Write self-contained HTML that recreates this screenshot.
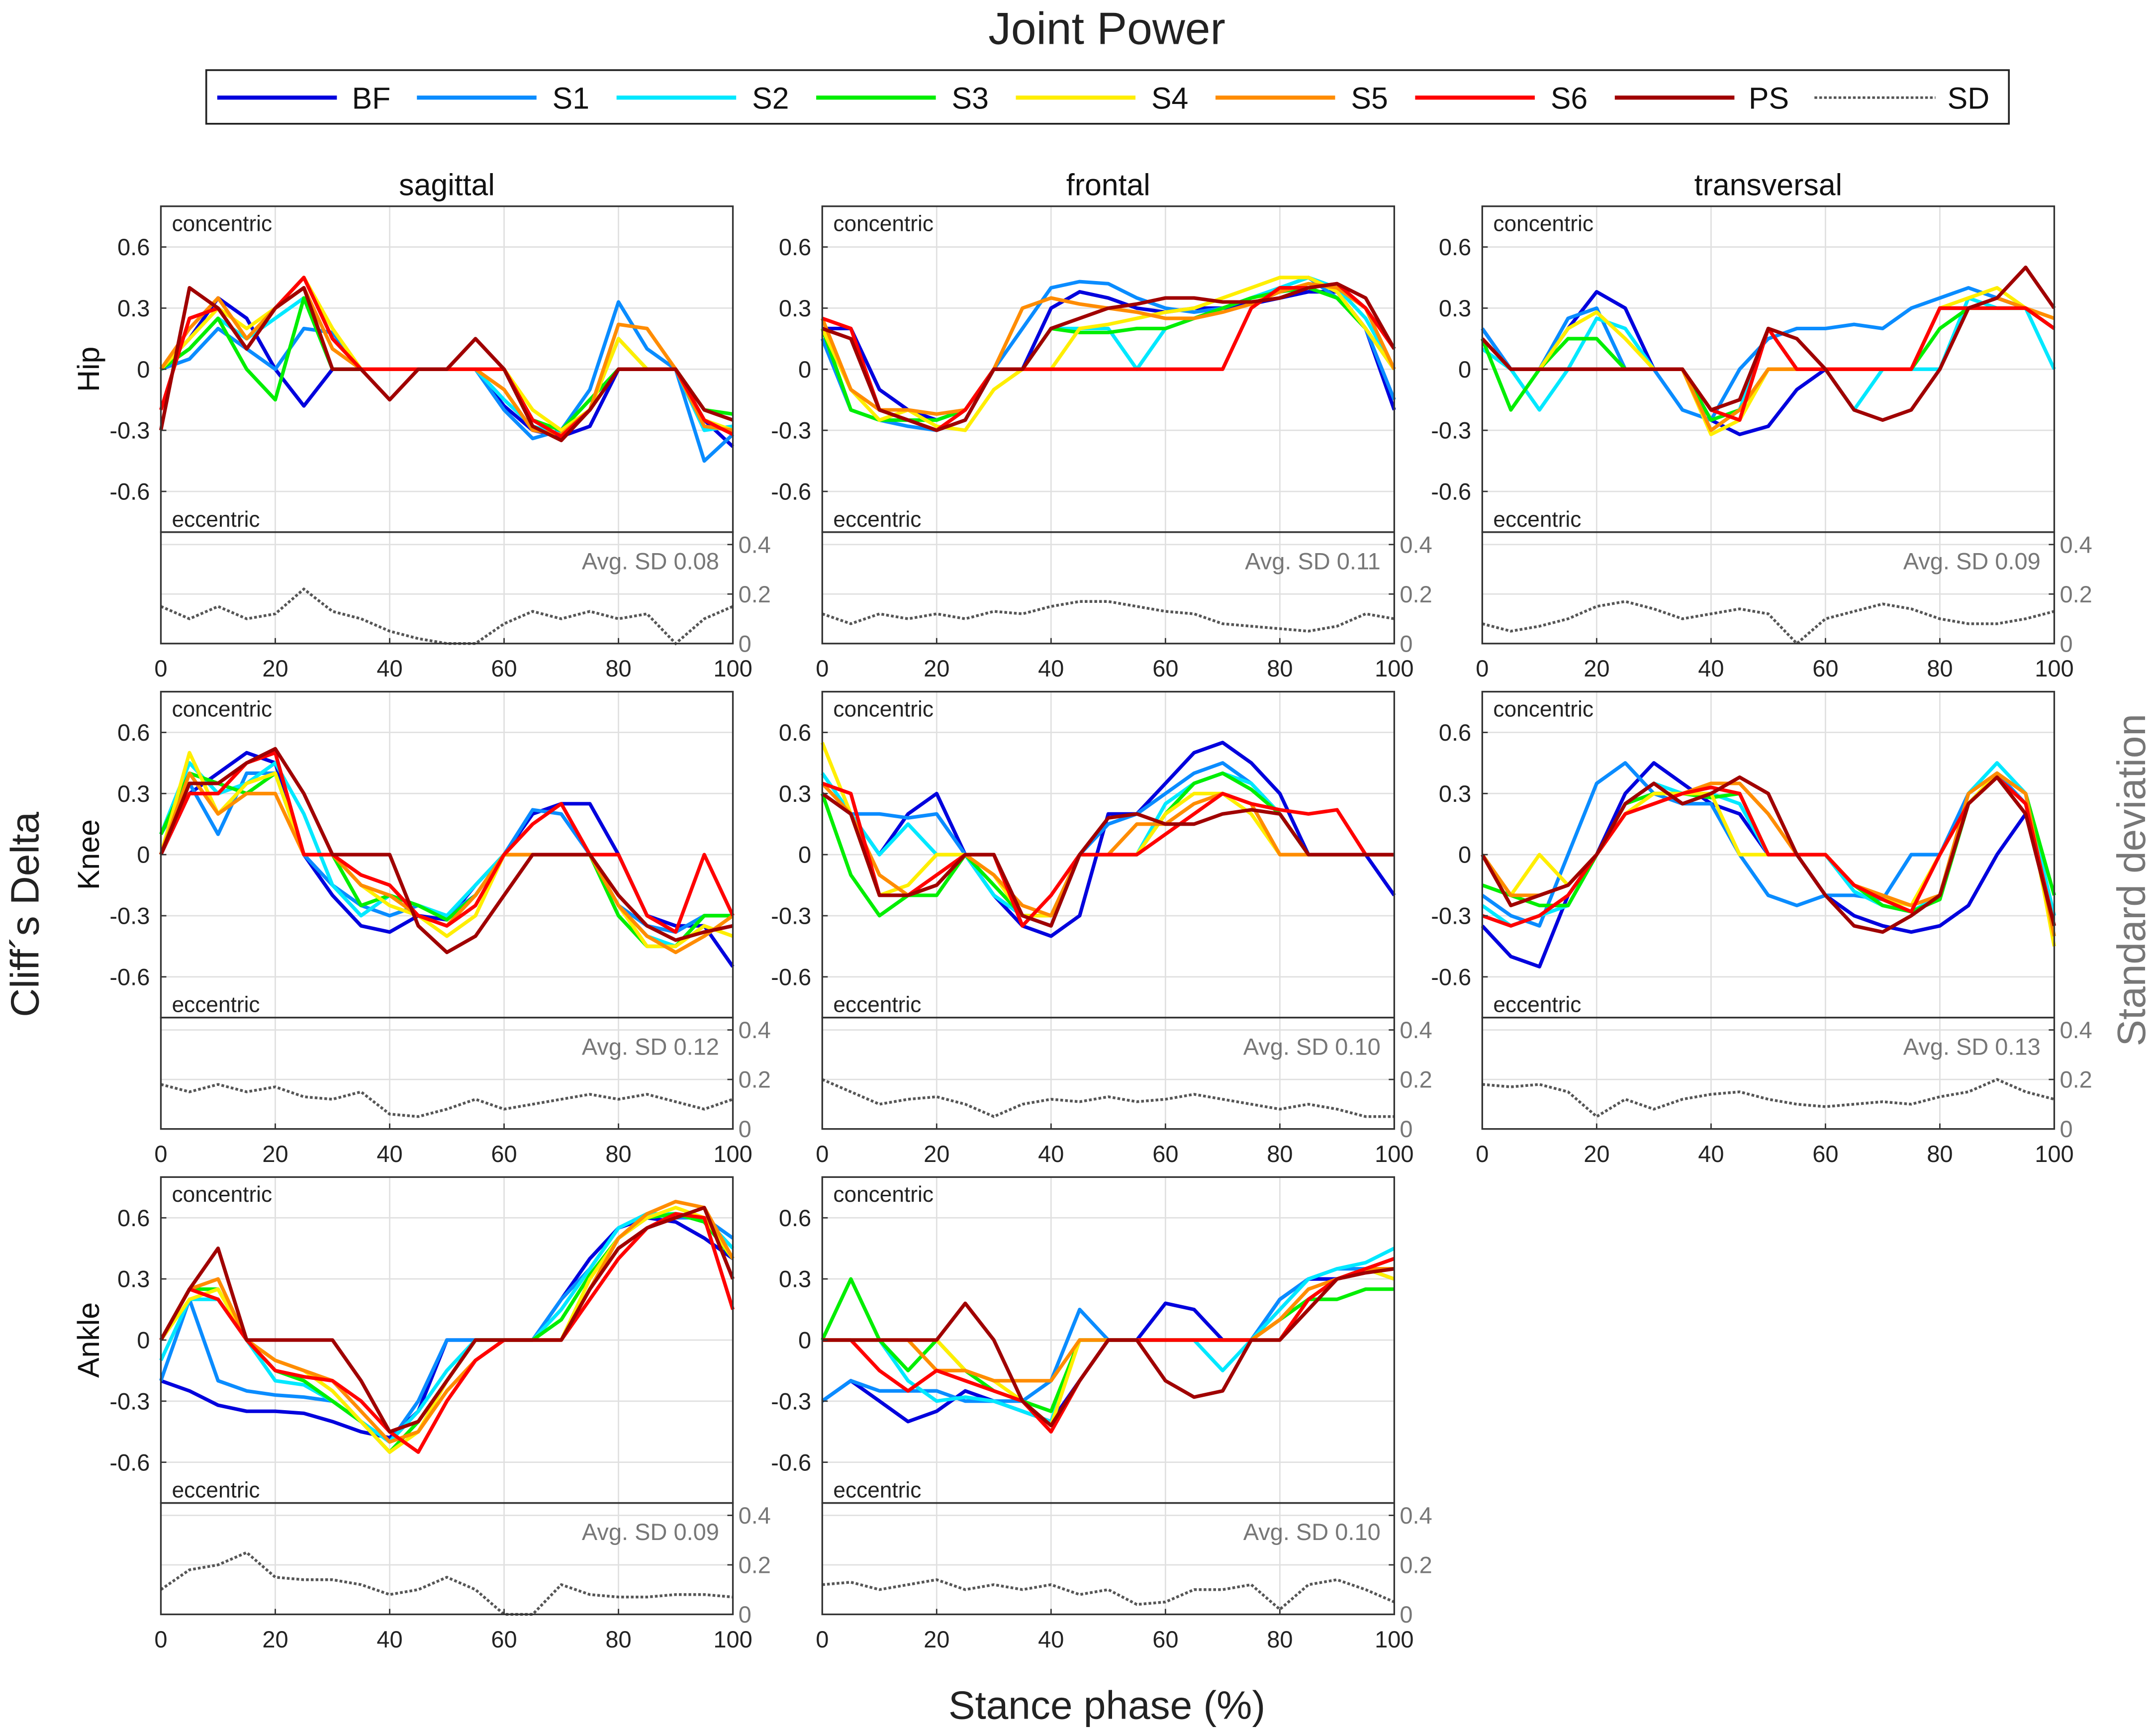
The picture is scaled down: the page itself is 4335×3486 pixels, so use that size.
<!DOCTYPE html>
<html><head><meta charset="utf-8"><title>Joint Power</title>
<style>html,body{margin:0;padding:0;background:#fff}svg{display:block}text{font-family:"Liberation Sans",sans-serif}</style>
</head><body>
<svg id="chart" width="4335" height="3486" viewBox="0 0 1568 1261" preserveAspectRatio="none" xmlns="http://www.w3.org/2000/svg">
<rect x="0" y="0" width="1568" height="1261" fill="#fff"/>
<text x="805" y="32" font-size="33" text-anchor="middle" fill="#222">Joint Power</text>
<g id="legend"></g>
<g id="panels"></g>
<text transform="translate(28,665) rotate(-90)" font-size="29" text-anchor="middle" fill="#222">Cliff´s Delta</text>
<text transform="translate(1560,640) rotate(-90)" font-size="29" text-anchor="middle" fill="#777">Standard deviation</text>
<text x="805" y="1250" font-size="29" text-anchor="middle" fill="#222">Stance phase (%)</text>
</svg>
<script>
const seriesNames = ["BF","S1","S2","S3","S4","S5","S6","PS"];
const seriesColors = ["#0000dd","#0a8cff","#00e8ff","#00ee00","#ffee00","#ff8c00","#ff0000","#a00000"];
const xGrid = [0,5,10,15,20,25,30,35,40,45,50,55,60,65,70,75,80,85,90,95,100];
const mainTicks = [0.6,0.3,0,-0.3,-0.6];
const mainTickLabels = ["0.6","0.3","0","-0.3","-0.6"];
const sdTicks = [0,0.2,0.4];
const xTicks = [0,20,40,60,80,100];
const columnTitles = ["sagittal","frontal","transversal"];
const rowTitles = ["Hip","Knee","Ankle"];
const avgSD = ["0.08","0.11","0.09","0.12","0.10","0.13","0.09","0.10"];

const hipSag = [
[0,0.15,0.35,0.25,0,-0.18,0,0,0,0,0,0,-0.18,-0.3,-0.33,-0.28,0,0,0,-0.25,-0.38],
[0,0.05,0.2,0.1,0,0.2,0.18,0,0,0,0,0,-0.2,-0.34,-0.3,-0.1,0.33,0.1,0,-0.45,-0.32],
[0,0.1,0.25,0.15,0.25,0.35,0,0,0,0,0,0,-0.15,-0.28,-0.32,-0.2,0.15,0,0,-0.3,-0.28],
[0,0.1,0.25,0,-0.15,0.35,0,0,0,0,0,0,0,-0.25,-0.3,-0.15,0,0,0,-0.2,-0.22],
[0,0.15,0.3,0.2,0.3,0.45,0.2,0,0,0,0,0,0,-0.2,-0.3,-0.2,0.15,0,0,-0.25,-0.3],
[0,0.2,0.35,0.15,0.3,0.4,0.1,0,0,0,0,0,-0.1,-0.3,-0.32,-0.2,0.22,0.2,0,-0.28,-0.3],
[-0.2,0.25,0.3,0.1,0.3,0.45,0.15,0,0,0,0,0,0,-0.25,-0.33,-0.2,0,0,0,-0.25,-0.32],
[-0.3,0.4,0.3,0.1,0.3,0.4,0,0,-0.15,0,0,0.15,0,-0.28,-0.35,-0.2,0,0,0,-0.2,-0.25]];
const hipSagSD = [0.15,0.1,0.15,0.1,0.12,0.22,0.13,0.1,0.05,0.02,0,0,0.08,0.13,0.1,0.13,0.1,0.12,0,0.1,0.15];

const hipFro = [
[0.2,0.2,-0.1,-0.2,-0.25,-0.2,0,0,0.3,0.38,0.35,0.3,0.28,0.3,0.3,0.32,0.35,0.38,0.38,0.2,-0.2],
[0.15,-0.2,-0.25,-0.28,-0.3,-0.25,0,0.2,0.4,0.43,0.42,0.35,0.3,0.28,0.3,0.35,0.4,0.45,0.35,0.2,-0.15],
[0.2,-0.2,-0.25,-0.25,-0.25,-0.2,0,0,0.2,0.2,0.2,0,0.2,0.25,0.3,0.35,0.4,0.45,0.4,0.25,0],
[0.2,-0.2,-0.25,-0.25,-0.25,-0.2,0,0,0.2,0.18,0.18,0.2,0.2,0.25,0.3,0.35,0.38,0.4,0.35,0.2,0],
[0.2,-0.1,-0.25,-0.2,-0.28,-0.3,-0.1,0,0,0.2,0.22,0.25,0.28,0.3,0.35,0.4,0.45,0.45,0.38,0.2,0],
[0.25,-0.1,-0.2,-0.2,-0.22,-0.2,0,0.3,0.35,0.32,0.3,0.28,0.25,0.25,0.28,0.32,0.38,0.42,0.4,0.3,0],
[0.25,0.2,-0.2,-0.25,-0.3,-0.2,0,0,0,0,0,0,0,0,0,0.3,0.4,0.4,0.42,0.3,0.1],
[0.2,0.15,-0.2,-0.25,-0.3,-0.25,0,0,0.2,0.25,0.3,0.32,0.35,0.35,0.33,0.33,0.35,0.4,0.42,0.35,0.1]];
const hipFroSD = [0.12,0.08,0.12,0.1,0.12,0.1,0.13,0.12,0.15,0.17,0.17,0.15,0.13,0.12,0.08,0.07,0.06,0.05,0.07,0.12,0.1];

const hipTra = [
[0.2,0,0,0.2,0.38,0.3,0,0,-0.25,-0.32,-0.28,-0.1,0,0,0,0,0.3,0.3,0.35,0.3,0.2],
[0.2,0,0,0.25,0.3,0,0,-0.2,-0.25,0,0.15,0.2,0.2,0.22,0.2,0.3,0.35,0.4,0.35,0.3,0.2],
[0.1,0,-0.2,0,0.25,0.2,0,0,-0.3,-0.2,0.2,0,0,-0.2,0,0,0,0.35,0.3,0.3,0],
[0.15,-0.2,0,0.15,0.15,0,0,0,-0.25,-0.2,0,0,0,0,0,0,0.2,0.3,0.3,0.3,0.2],
[0.15,0,0,0.2,0.28,0.15,0,0,-0.32,-0.25,0,0,0,0,0,0,0.3,0.35,0.4,0.3,0.25],
[0.15,0,0,0,0,0,0,0,-0.3,-0.2,0,0,0,0,0,0,0.3,0.3,0.35,0.3,0.25],
[0.15,0,0,0,0,0,0,0,-0.2,-0.25,0.2,0,0,0,0,0,0.3,0.3,0.3,0.3,0.2],
[0.15,0,0,0,0,0,0,0,-0.2,-0.15,0.2,0.15,0,-0.2,-0.25,-0.2,0,0.3,0.35,0.5,0.3]];
const hipTraSD = [0.08,0.05,0.07,0.1,0.15,0.17,0.14,0.1,0.12,0.14,0.12,0,0.1,0.13,0.16,0.14,0.1,0.08,0.08,0.1,0.13];

const kneeSag = [
[0,0.3,0.4,0.5,0.45,0,-0.2,-0.35,-0.38,-0.3,-0.32,-0.15,0,0.2,0.25,0.25,0,-0.3,-0.35,-0.35,-0.55],
[0.1,0.35,0.1,0.4,0.4,0,-0.15,-0.25,-0.3,-0.25,-0.3,-0.2,0,0.22,0.2,0,-0.25,-0.35,-0.38,-0.3,-0.3],
[0.1,0.45,0.3,0.35,0.45,0.2,-0.15,-0.3,-0.2,-0.25,-0.3,-0.15,0,0,0,0,-0.25,-0.4,-0.45,-0.3,-0.3],
[0.1,0.4,0.35,0.3,0.4,0,0,-0.25,-0.2,-0.25,-0.32,-0.2,0,0,0,0,-0.3,-0.45,-0.45,-0.3,-0.3],
[0,0.5,0.2,0.35,0.4,0,0,-0.15,-0.25,-0.3,-0.4,-0.3,0,0,0,0,-0.25,-0.45,-0.45,-0.35,-0.4],
[0,0.4,0.2,0.3,0.3,0,0,-0.15,-0.2,-0.3,-0.35,-0.2,0,0,0,0,-0.25,-0.4,-0.48,-0.4,-0.3],
[0,0.3,0.3,0.45,0.5,0,0,-0.1,-0.15,-0.3,-0.35,-0.25,0,0.15,0.25,0,0,-0.3,-0.38,0,-0.3],
[0,0.35,0.35,0.45,0.52,0.3,0,0,0,-0.35,-0.48,-0.4,-0.2,0,0,0,-0.2,-0.35,-0.42,-0.38,-0.35]];
const kneeSagSD = [0.18,0.15,0.18,0.15,0.17,0.13,0.12,0.15,0.06,0.05,0.08,0.12,0.08,0.1,0.12,0.14,0.12,0.14,0.11,0.08,0.12];

const kneeFro = [
[0.3,0.2,0,0.2,0.3,0,-0.2,-0.35,-0.4,-0.3,0.2,0.2,0.35,0.5,0.55,0.45,0.3,0,0,0,-0.2],
[0.3,0.2,0.2,0.18,0.2,0,-0.2,-0.3,-0.35,0,0.15,0.2,0.3,0.4,0.45,0.35,0.2,0,0,0,0],
[0.4,0.2,0,0.15,0,0,-0.2,-0.3,-0.3,0,0,0,0.25,0.35,0.4,0.35,0.2,0,0,0,0],
[0.3,-0.1,-0.3,-0.2,-0.2,0,-0.15,-0.3,-0.3,0,0,0,0.2,0.35,0.4,0.32,0.2,0,0,0,0],
[0.55,0.2,-0.2,-0.15,0,0,-0.1,-0.3,-0.3,0,0,0,0.2,0.3,0.3,0.2,0,0,0,0,0],
[0.35,0.2,-0.1,-0.2,-0.15,0,-0.1,-0.25,-0.3,0,0,0.15,0.15,0.25,0.3,0.25,0,0,0,0,0],
[0.35,0.3,-0.2,-0.2,-0.1,0,0,-0.35,-0.2,0,0,0,0.1,0.2,0.3,0.25,0.22,0.2,0.22,0,0],
[0.3,0.2,-0.2,-0.2,-0.15,0,0,-0.3,-0.35,0,0.18,0.2,0.15,0.15,0.2,0.22,0.2,0,0,0,0]];
const kneeFroSD = [0.2,0.15,0.1,0.12,0.13,0.1,0.05,0.1,0.12,0.11,0.13,0.11,0.12,0.14,0.12,0.1,0.08,0.1,0.08,0.05,0.05];

const kneeTra = [
[-0.35,-0.5,-0.55,-0.2,0,0.3,0.45,0.35,0.25,0.2,0,0,-0.2,-0.3,-0.35,-0.38,-0.35,-0.25,0,0.2,-0.3],
[-0.2,-0.3,-0.35,0,0.35,0.45,0.3,0.25,0.25,0,-0.2,-0.25,-0.2,-0.2,-0.22,0,0,0.3,0.4,0.25,-0.3],
[-0.25,-0.35,-0.3,-0.25,0,0.25,0.35,0.3,0.3,0.25,0,0,0,-0.18,-0.25,-0.28,-0.2,0.3,0.45,0.3,-0.3],
[-0.15,-0.2,-0.25,-0.25,0,0.25,0.3,0.3,0.28,0.3,0,0,0,-0.15,-0.25,-0.28,-0.22,0.25,0.4,0.3,-0.2],
[0,-0.2,0,-0.15,0,0.2,0.3,0.3,0.3,0,0,0,0,-0.15,-0.22,-0.25,0,0.25,0.4,0.3,-0.45],
[0,-0.2,-0.2,-0.15,0,0.2,0.25,0.3,0.35,0.35,0.2,0,0,-0.15,-0.2,-0.25,-0.2,0.3,0.4,0.3,-0.4],
[-0.3,-0.35,-0.3,-0.2,0,0.2,0.25,0.3,0.33,0.3,0,0,0,-0.15,-0.22,-0.28,0,0.25,0.38,0.25,-0.35],
[0,-0.25,-0.2,-0.15,0,0.25,0.35,0.25,0.3,0.38,0.3,0,-0.2,-0.35,-0.38,-0.3,-0.2,0.25,0.38,0.2,-0.35]];
const kneeTraSD = [0.18,0.17,0.18,0.15,0.05,0.12,0.08,0.12,0.14,0.15,0.12,0.1,0.09,0.1,0.11,0.1,0.13,0.15,0.2,0.15,0.12];

const ankleSag = [
[-0.2,-0.25,-0.32,-0.35,-0.35,-0.36,-0.4,-0.45,-0.48,-0.35,0,0,0,0,0.2,0.4,0.55,0.6,0.58,0.5,0.4],
[-0.2,0.2,-0.2,-0.25,-0.27,-0.28,-0.3,-0.4,-0.5,-0.3,0,0,0,0,0.2,0.35,0.55,0.62,0.6,0.6,0.5],
[-0.1,0.2,0.2,0,-0.2,-0.22,-0.3,-0.4,-0.5,-0.35,-0.15,0,0,0,0.15,0.35,0.55,0.62,0.62,0.6,0.45],
[0,0.25,0.25,0,-0.15,-0.2,-0.3,-0.4,-0.55,-0.4,-0.2,0,0,0,0.1,0.32,0.5,0.6,0.62,0.58,0.4],
[0,0.2,0.25,0,-0.1,-0.15,-0.25,-0.4,-0.55,-0.45,-0.2,0,0,0,0,0.3,0.5,0.6,0.65,0.6,0.4],
[0,0.25,0.3,0,-0.1,-0.15,-0.2,-0.35,-0.5,-0.45,-0.25,-0.1,0,0,0,0.25,0.5,0.62,0.68,0.65,0.4],
[0,0.25,0.2,0,-0.15,-0.18,-0.2,-0.3,-0.45,-0.55,-0.3,-0.1,0,0,0,0.2,0.4,0.55,0.62,0.6,0.15],
[0,0.25,0.45,0,0,0,0,-0.2,-0.45,-0.4,-0.2,0,0,0,0,0.25,0.45,0.55,0.6,0.65,0.3]];
const ankleSagSD = [0.1,0.18,0.2,0.25,0.15,0.14,0.14,0.12,0.08,0.1,0.15,0.1,0,0,0.12,0.08,0.07,0.07,0.08,0.08,0.07];

const ankleFro = [
[-0.3,-0.2,-0.3,-0.4,-0.35,-0.25,-0.3,-0.35,-0.4,-0.2,0,0,0.18,0.15,0,0,0.2,0.3,0.3,0.35,0.3],
[-0.3,-0.2,-0.25,-0.25,-0.25,-0.3,-0.3,-0.3,-0.2,0.15,0,0,0,0,0,0,0.2,0.3,0.35,0.35,0.4],
[0,0,0,-0.2,-0.3,-0.28,-0.3,-0.35,-0.4,0,0,0,0,0,-0.15,0,0.15,0.3,0.35,0.38,0.45],
[0,0.3,0,-0.15,0,-0.15,-0.25,-0.3,-0.35,0,0,0,0,0,0,0,0.1,0.2,0.2,0.25,0.25],
[0,0,0,0,0,-0.15,-0.2,-0.3,-0.42,0,0,0,0,0,0,0,0,0.2,0.3,0.35,0.3],
[0,0,0,0,-0.15,-0.15,-0.2,-0.2,-0.2,0,0,0,0,0,0,0,0.1,0.25,0.3,0.35,0.35],
[0,0,-0.15,-0.25,-0.15,-0.2,-0.25,-0.3,-0.45,-0.2,0,0,0,0,0,0,0,0.2,0.3,0.35,0.4],
[0,0,0,0,0,0.18,0,-0.3,-0.42,-0.2,0,0,-0.2,-0.28,-0.25,0,0,0.15,0.3,0.33,0.35]];
const ankleFroSD = [0.12,0.13,0.1,0.12,0.14,0.1,0.12,0.1,0.12,0.08,0.1,0.04,0.05,0.1,0.1,0.12,0.02,0.12,0.14,0.1,0.05];

const panelData = [hipSag,hipFro,hipTra,kneeSag,kneeFro,kneeTra,ankleSag,ankleFro];
const panelSD = [hipSagSD,hipFroSD,hipTraSD,kneeSagSD,kneeFroSD,kneeTraSD,ankleSagSD,ankleFroSD];
const panelNames = ["hip-sagittal","hip-frontal","hip-transversal","knee-sagittal","knee-frontal","knee-transversal","ankle-sagittal","ankle-frontal"];

const NS = "http://www.w3.org/2000/svg";
function mk(tag, attrs, parent, txt){
  const e = document.createElementNS(NS, tag);
  for (const k in attrs) e.setAttribute(k, attrs[k]);
  if (txt !== undefined) e.textContent = txt;
  parent.appendChild(e);
  return e;
}
const svg = document.getElementById("chart");
const legend = document.getElementById("legend");
const panels = document.getElementById("panels");

const lb = mk("rect",{x:150,y:51,width:1311,height:39,fill:"#fff",stroke:"#222","stroke-width":1.3},legend);


const legNames = seriesNames.concat(["SD"]);
legNames.forEach((n,i)=>{
  const x0 = 158 + i*145.2;
  const g = mk("g",{},legend);
  
  
  if (n === "SD") mk("line",{x1:x0,y1:71,x2:x0+88,y2:71,stroke:"#555","stroke-width":1.8,"stroke-dasharray":"2,1.5"},g);
  else mk("line",{x1:x0,y1:71,x2:x0+87,y2:71,stroke:seriesColors[i],"stroke-width":3},g);
  mk("text",{x:x0+112,y:79,"font-size":22,"text-anchor":"middle",fill:"#111"},g,n);
});

const colX = [117,598,1078];
const rowY = [150,503,856];
const PW = 416, MH = 237, SH = 81;

columnTitles.forEach((t,c)=>{
  const e = mk("text",{x:colX[c]+PW/2,y:142,"font-size":22,"text-anchor":"middle",fill:"#111"},svg,t);
  
  
});
rowTitles.forEach((t,r)=>{
  const e = mk("text",{transform:`translate(72,${rowY[r]+MH/2}) rotate(-90)`,"font-size":22,"text-anchor":"middle",fill:"#111"},svg,t);
  
  
});

panelData.forEach((data,p)=>{
  const c = p%3, r = Math.floor(p/3);
  const x0 = colX[c], y0 = rowY[r];
  const sx = v => x0 + v/100*PW;
  const sy = v => y0 + MH/2 - v/0.8*(MH/2);
  const sdy = v => y0 + MH + SH - v/0.45*SH;
  const g = mk("g",{},panels);
  
  
  xTicks.slice(1,-1).forEach(t=>{
    mk("line",{x1:sx(t),y1:y0,x2:sx(t),y2:y0+MH+SH,stroke:"#e0e0e0","stroke-width":1},g);
  });
  mainTicks.forEach(t=>{
    mk("line",{x1:x0,y1:sy(t),x2:x0+PW,y2:sy(t),stroke:"#e0e0e0","stroke-width":1},g);
  });
  sdTicks.forEach(t=>{
    mk("line",{x1:x0,y1:sdy(t),x2:x0+PW,y2:sdy(t),stroke:"#e0e0e0","stroke-width":1},g);
  });
  mk("text",{x:x0+8,y:y0+18,"font-size":16,fill:"#222"},g,"concentric");
  mk("text",{x:x0+8,y:y0+MH-4,"font-size":16,fill:"#222"},g,"eccentric");
  const at = mk("text",{x:x0+PW-10,y:y0+MH+27,"font-size":17,"text-anchor":"end",fill:"#777"},g,"Avg. SD "+avgSD[p]);
  
  
  data.forEach((vals,s)=>{
    const pts = vals.map((v,i)=>sx(xGrid[i]).toFixed(1)+","+sy(v).toFixed(1)).join(" ");
    const pl = mk("polyline",{points:pts,fill:"none",stroke:seriesColors[s],"stroke-width":2.6,"stroke-linejoin":"round"},g);
    
    
  });
  const sdp = panelSD[p].map((v,i)=>sx(xGrid[i]).toFixed(1)+","+sdy(v).toFixed(1)).join(" ");
  const sdl = mk("polyline",{points:sdp,fill:"none",stroke:"#555","stroke-width":2,"stroke-dasharray":"2,1.5"},g);
  
  
  mk("rect",{x:x0,y:y0,width:PW,height:MH,fill:"none",stroke:"#333","stroke-width":1.2},g);
  mk("rect",{x:x0,y:y0+MH,width:PW,height:SH,fill:"none",stroke:"#333","stroke-width":1.2},g);
  mainTicks.forEach((t,i)=>{
    mk("line",{x1:x0,y1:sy(t),x2:x0+4,y2:sy(t),stroke:"#333"},g);
    mk("text",{x:x0-8,y:sy(t)+6,"font-size":17,"text-anchor":"end",fill:"#222"},g,mainTickLabels[i]);
  });
  sdTicks.forEach(t=>{
    mk("line",{x1:x0+PW-4,y1:sdy(t),x2:x0+PW,y2:sdy(t),stroke:"#333"},g);
    mk("text",{x:x0+PW+4,y:sdy(t)+6,"font-size":17,fill:"#777"},g,String(t));
  });
  xTicks.forEach(t=>{
    mk("line",{x1:sx(t),y1:y0+MH+SH,x2:sx(t),y2:y0+MH+SH-4,stroke:"#333"},g);
    mk("text",{x:sx(t),y:y0+MH+SH+24,"font-size":17,"text-anchor":"middle",fill:"#222"},g,String(t));
  });
});
</script>
</body></html>
